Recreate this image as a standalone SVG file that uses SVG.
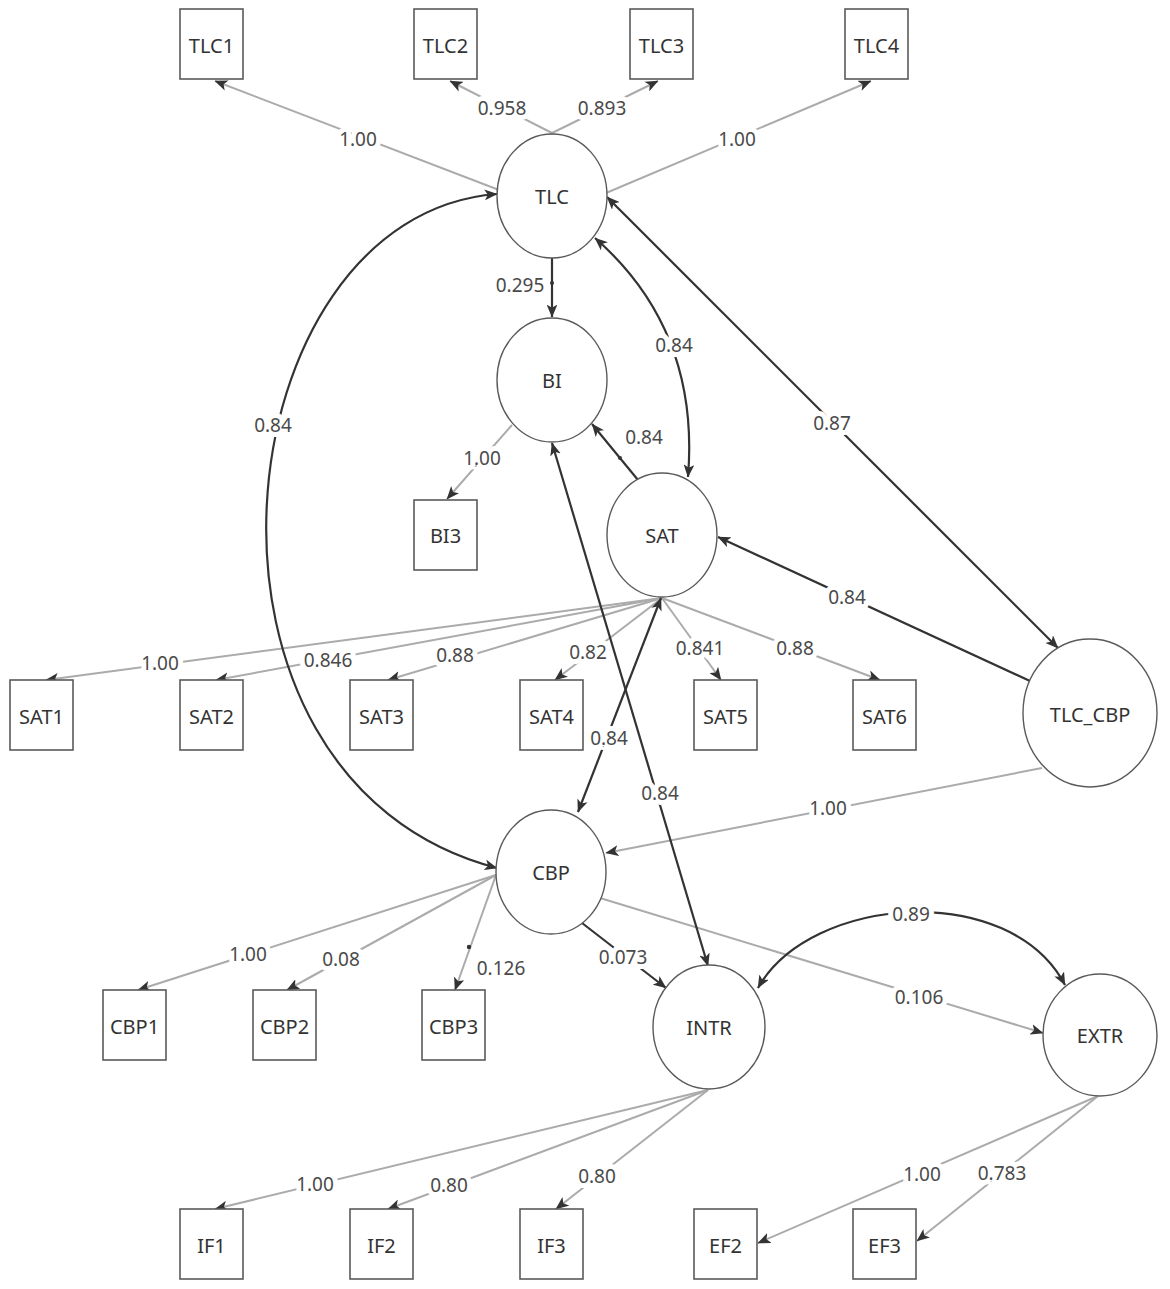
<svg xmlns="http://www.w3.org/2000/svg" width="1170" height="1289" viewBox="0 0 1170 1289">
<style>
.bg{fill:#ffffff}
.box{fill:#ffffff;stroke:#5a5a5a;stroke-width:1.6}
.lat{fill:#ffffff;stroke:#5a5a5a;stroke-width:1.4}
.nt{font-family:"Noto Sans","Open Sans","DejaVu Sans",sans-serif;font-size:20px;fill:#333333;text-anchor:middle;dominant-baseline:central}
.g{fill:none;stroke:#ababab;stroke-width:2}
.d{fill:none;stroke:#333333;stroke-width:2.2}
.lb{font-family:"Noto Sans","Open Sans","DejaVu Sans",sans-serif;font-size:19px;fill:#4a4a4a;text-anchor:middle;dominant-baseline:central;paint-order:stroke;stroke:#ffffff;stroke-width:10px;stroke-linejoin:round}
.dot{fill:#333333}
</style>
<defs>
<marker id="ah" viewBox="0 0 12 10" refX="11.5" refY="5" markerWidth="13" markerHeight="11" markerUnits="userSpaceOnUse" orient="auto-start-reverse">
<path d="M0,0 L12,5 L0,10 L3,5 z" fill="#333333"/>
</marker>
</defs>
<rect class="bg" x="0" y="0" width="1170" height="1289"/>
<g id="connectors">
<path class="g" d="M499,190 L215,81" marker-end="url(#ah)"/>
<path class="g" d="M554,134 L450,81" marker-end="url(#ah)"/>
<path class="g" d="M550,134 L658,81" marker-end="url(#ah)"/>
<path class="g" d="M606,193 L871,81" marker-end="url(#ah)"/>
<path class="g" d="M512,425 L447,499" marker-end="url(#ah)"/>
<path class="g" d="M662,598 L46,680" marker-end="url(#ah)"/>
<path class="g" d="M662,598 L216,680" marker-end="url(#ah)"/>
<path class="g" d="M662,598 L388,680" marker-end="url(#ah)"/>
<path class="g" d="M662,598 L555,680" marker-end="url(#ah)"/>
<path class="g" d="M662,598 L721,680" marker-end="url(#ah)"/>
<path class="g" d="M662,598 L880,680" marker-end="url(#ah)"/>
<path class="g" d="M1042,768 L606,853" marker-end="url(#ah)"/>
<path class="g" d="M496,875 L138,990" marker-end="url(#ah)"/>
<path class="g" d="M496,875 L287,990" marker-end="url(#ah)"/>
<path class="g" d="M496,875 L455,990" marker-end="url(#ah)"/>
<path class="g" d="M600,898 L1043,1033" marker-end="url(#ah)"/>
<path class="g" d="M708,1090 L215,1209" marker-end="url(#ah)"/>
<path class="g" d="M708,1090 L388,1209" marker-end="url(#ah)"/>
<path class="g" d="M708,1090 L556,1209" marker-end="url(#ah)"/>
<path class="g" d="M1098,1096 L758,1243" marker-end="url(#ah)"/>
<path class="g" d="M1098,1096 L917,1241" marker-end="url(#ah)"/>
<path class="d" d="M552,258 L552,317" marker-end="url(#ah)"/>
<path class="d" d="M638,480 L592,424" marker-end="url(#ah)"/>
<path class="d" d="M595,238 Q700,330 688,477" marker-start="url(#ah)" marker-end="url(#ah)"/>
<path class="d" d="M497,194 C220,215 160,780 497,868" marker-start="url(#ah)" marker-end="url(#ah)"/>
<path class="d" d="M607,197 L1058,648" marker-start="url(#ah)" marker-end="url(#ah)"/>
<path class="d" d="M1030,681 L718,537" marker-end="url(#ah)"/>
<path class="d" d="M661,598 L578,812" marker-start="url(#ah)" marker-end="url(#ah)"/>
<path class="d" d="M552,443 L708,966" marker-start="url(#ah)" marker-end="url(#ah)"/>
<path class="d" d="M582,923 L666,988" marker-end="url(#ah)"/>
<path class="d" d="M758,988 C810,895 1010,880 1065,985" marker-start="url(#ah)" marker-end="url(#ah)"/>
<circle class="dot" cx="552" cy="283" r="2"/>
<circle class="dot" cx="620" cy="458" r="2"/>
<circle class="dot" cx="469" cy="947" r="2.2"/>
<text class="lb" x="358" y="139">1.00</text>
<text class="lb" x="502" y="108">0.958</text>
<text class="lb" x="602" y="108">0.893</text>
<text class="lb" x="737" y="139">1.00</text>
<text class="lb" x="520" y="285" style="stroke-width:4px">0.295</text>
<text class="lb" x="674" y="345">0.84</text>
<text class="lb" x="273" y="425">0.84</text>
<text class="lb" x="832" y="423">0.87</text>
<text class="lb" x="644" y="437" style="stroke-width:4px">0.84</text>
<text class="lb" x="482" y="458">1.00</text>
<text class="lb" x="847" y="597">0.84</text>
<text class="lb" x="160" y="663">1.00</text>
<text class="lb" x="328" y="660">0.846</text>
<text class="lb" x="455" y="655">0.88</text>
<text class="lb" x="588" y="652">0.82</text>
<text class="lb" x="700" y="648">0.841</text>
<text class="lb" x="795" y="648">0.88</text>
<text class="lb" x="609" y="738">0.84</text>
<text class="lb" x="660" y="793">0.84</text>
<text class="lb" x="828" y="808">1.00</text>
<text class="lb" x="911" y="914">0.89</text>
<text class="lb" x="248" y="954">1.00</text>
<text class="lb" x="341" y="959">0.08</text>
<text class="lb" x="501" y="968" style="stroke-width:4px">0.126</text>
<text class="lb" x="623" y="957">0.073</text>
<text class="lb" x="919" y="997">0.106</text>
<text class="lb" x="922" y="1174">1.00</text>
<text class="lb" x="1002" y="1173">0.783</text>
<text class="lb" x="315" y="1184">1.00</text>
<text class="lb" x="449" y="1185">0.80</text>
<text class="lb" x="597" y="1176">0.80</text>
</g>
<g id="TLC1"><rect class="box" x="180" y="9" width="63" height="70"/><text class="nt" x="211.5" y="45">TLC1</text></g>
<g id="TLC2"><rect class="box" x="414" y="9" width="63" height="70"/><text class="nt" x="445.5" y="45">TLC2</text></g>
<g id="TLC3"><rect class="box" x="630" y="9" width="63" height="70"/><text class="nt" x="661.5" y="45">TLC3</text></g>
<g id="TLC4"><rect class="box" x="845" y="9" width="63" height="70"/><text class="nt" x="876.5" y="45">TLC4</text></g>
<g id="TLC"><ellipse class="lat" cx="552" cy="196" rx="55" ry="62"/><text class="nt" x="552" y="196">TLC</text></g>
<g id="BI"><ellipse class="lat" cx="552" cy="380" rx="55" ry="62"/><text class="nt" x="552" y="380">BI</text></g>
<g id="BI3"><rect class="box" x="414" y="500" width="63" height="70"/><text class="nt" x="445.5" y="535">BI3</text></g>
<g id="SAT"><ellipse class="lat" cx="662" cy="535" rx="55" ry="62"/><text class="nt" x="662" y="535">SAT</text></g>
<g id="SAT1"><rect class="box" x="10" y="680" width="63" height="70"/><text class="nt" x="41.5" y="716">SAT1</text></g>
<g id="SAT2"><rect class="box" x="180" y="680" width="63" height="70"/><text class="nt" x="211.5" y="716">SAT2</text></g>
<g id="SAT3"><rect class="box" x="350" y="680" width="63" height="70"/><text class="nt" x="381.5" y="716">SAT3</text></g>
<g id="SAT4"><rect class="box" x="520" y="680" width="63" height="70"/><text class="nt" x="551.5" y="716">SAT4</text></g>
<g id="SAT5"><rect class="box" x="694" y="680" width="63" height="70"/><text class="nt" x="725.5" y="716">SAT5</text></g>
<g id="SAT6"><rect class="box" x="853" y="680" width="63" height="70"/><text class="nt" x="884.5" y="716">SAT6</text></g>
<g id="TLC_CBP"><ellipse class="lat" cx="1090" cy="713" rx="67" ry="74"/><text class="nt" x="1090" y="714">TLC_CBP</text></g>
<g id="CBP"><ellipse class="lat" cx="551" cy="872" rx="55" ry="62"/><text class="nt" x="551" y="872">CBP</text></g>
<g id="CBP1"><rect class="box" x="103" y="990" width="63" height="70"/><text class="nt" x="134.5" y="1026">CBP1</text></g>
<g id="CBP2"><rect class="box" x="253" y="990" width="63" height="70"/><text class="nt" x="284.5" y="1026">CBP2</text></g>
<g id="CBP3"><rect class="box" x="422" y="990" width="63" height="70"/><text class="nt" x="453.5" y="1026">CBP3</text></g>
<g id="INTR"><ellipse class="lat" cx="709" cy="1027" rx="56" ry="62"/><text class="nt" x="709" y="1027">INTR</text></g>
<g id="EXTR"><ellipse class="lat" cx="1100" cy="1035" rx="57" ry="61"/><text class="nt" x="1100" y="1035">EXTR</text></g>
<g id="IF1"><rect class="box" x="180" y="1209" width="63" height="70"/><text class="nt" x="211.5" y="1245">IF1</text></g>
<g id="IF2"><rect class="box" x="350" y="1209" width="63" height="70"/><text class="nt" x="381.5" y="1245">IF2</text></g>
<g id="IF3"><rect class="box" x="520" y="1209" width="63" height="70"/><text class="nt" x="551.5" y="1245">IF3</text></g>
<g id="EF2"><rect class="box" x="694" y="1209" width="63" height="70"/><text class="nt" x="725.5" y="1245">EF2</text></g>
<g id="EF3"><rect class="box" x="853" y="1209" width="63" height="70"/><text class="nt" x="884.5" y="1245">EF3</text></g>
</svg>
